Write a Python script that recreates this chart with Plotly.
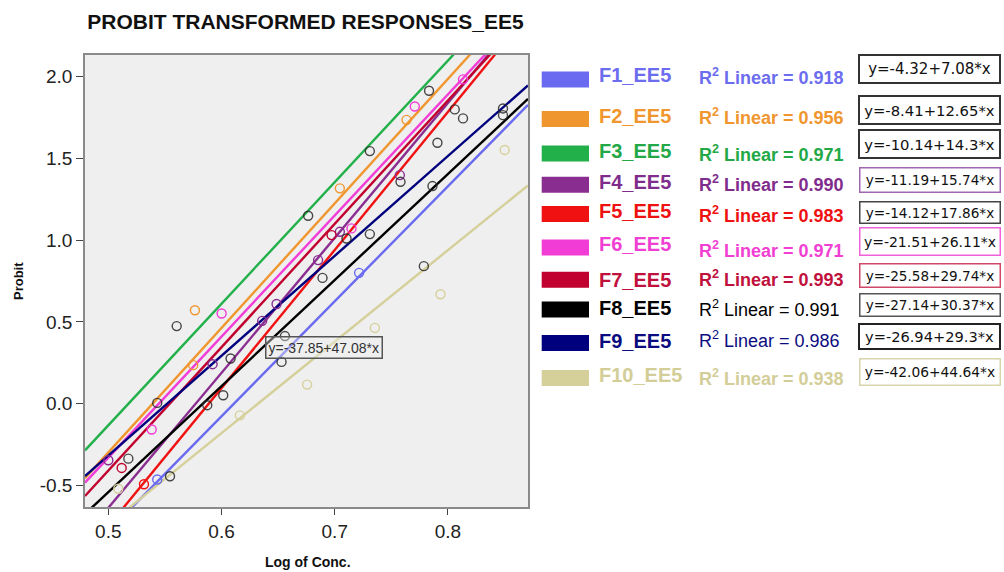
import numpy as np
import plotly.graph_objects as go

# ---------------- data ----------------
series_names = ["F1_EE5", "F2_EE5", "F3_EE5", "F4_EE5", "F5_EE5",
                "F6_EE5", "F7_EE5", "F8_EE5", "F9_EE5", "F10_EE5"]
r2_values = [0.918, 0.956, 0.971, 0.990, 0.983, 0.971, 0.993, 0.991, 0.986, 0.938]
eq_intercepts = [-4.32, -8.41, -10.14, -11.19, -14.12, -21.51, -25.58, -27.14, -26.94, -42.06]
eq_slopes = [7.08, 12.65, 14.3, 15.74, 17.86, 26.11, 29.74, 30.37, 29.3, 44.64]
extra_eq_intercept = -37.85
extra_eq_slope = 47.08

# fitted lines as drawn in the plot
line_intercepts = [-4.302, -4.109, -3.853, -4.768, -4.975, -4.036, -4.185, -3.787, -3.373, -3.541]
line_slopes = [7.04, 7.62, 7.44, 8.26, 8.45, 7.41, 7.55, 6.49, 6.11, 5.60]

f1_x = [0.5432, 0.5545, 0.653, 0.7215, 0.7787]
f1_y = [-0.465, -0.445, 0.255, 0.800, 0.841]
f2_x = [0.575, 0.5765, 0.7045, 0.7634]
f2_y = [0.235, 0.571, 1.317, 1.736]
f3_x = [0.5604, 0.6765, 0.731, 0.7833]
f3_y = [0.474, 1.149, 1.545, 1.914]
f4_x = [0.5, 0.5921, 0.6359, 0.6486, 0.6853, 0.7045, 0.7575]
f4_y = [-0.347, 0.241, 0.506, 0.609, 0.878, 1.051, 1.398]
f5_x = [0.5315, 0.5874, 0.7104, 0.7581, 0.806]
f5_y = [-0.494, -0.010, 1.010, 1.357, 1.800]
f6_x = [0.5383, 0.6001, 0.7148, 0.7707, 0.8133]
f6_y = [-0.159, 0.551, 1.072, 1.818, 1.984]
f7_x = [0.5118, 0.6972, 0.7907, 0.8133]
f7_y = [-0.394, 1.031, 1.596, 1.745]
f8_x = [0.5177, 0.6015, 0.656, 0.7863, 0.8486]
f8_y = [-0.337, 0.051, 0.413, 1.331, 1.765]
f9_x = [0.5432, 0.608, 0.6892, 0.731, 0.8486]
f9_y = [0.004, 0.276, 0.769, 1.037, 1.806]
f10_x = [0.5088, 0.6162, 0.6756, 0.7354, 0.7934, 0.8501]
f10_y = [-0.521, -0.072, 0.116, 0.463, 0.669, 1.552]

x_ticks = [0.5, 0.6, 0.7, 0.8]
y_ticks = [-0.5, 0.0, 0.5, 1.0, 1.5, 2.0]

all_x = [f1_x, f2_x, f3_x, f4_x, f5_x, f6_x, f7_x, f8_x, f9_x, f10_x]
all_y = [f1_y, f2_y, f3_y, f4_y, f5_y, f6_y, f7_y, f8_y, f9_y, f10_y]

# ---------------- style ----------------
colors = ["#6A6AF0", "#F0962E", "#22B04A", "#8A2D90", "#F01212",
          "#F23CD6", "#C2002F", "#000000", "#00007E", "#D5D09A"]
text_colors = ["#6C6CEE", "#F0962E", "#22A846", "#7F2C8C", "#EE1111",
               "#F03FD2", "#C0103C", "#000000", "#0B0B80", "#D3CD98"]
# which circles appear dark grey in the picture (per series, per point)
dark_marks = [[False, True, True, False, True],
              [False, False, False, False],
              [True, True, True, True],
              [False] * 7,
              [False, True, True, True, True],
              [False] * 5,
              [False, False, True, True],
              [True] * 5,
              [True] * 5,
              [False] * 6]
r2_bold = [True, True, True, True, True, True, True, False, False, True]
box_colors = ["#333333", "#333333", "#333333", "#A066B0", "#444444",
              "#F060D8", "#D04868", "#555555", "#222222", "#D8D4AC"]
box_font = [15, 14.8, 14.8, 13.6, 13.6, 14, 13.6, 13.6, 14.6, 13.8]
box_bw = [2, 2, 2, 1.5, 1.5, 1.5, 1.5, 1.5, 2, 1.5]
box_h = [24, 24, 24, 21, 18, 24, 20, 19, 21, 23]
row_swatch = [79.5, 119, 153.5, 184.7, 214, 247.5, 279.7, 309.5, 343, 378]
row_label = [74.5, 115.5, 150.5, 182, 211, 244, 280, 308, 341, 375]
row_r2 = [77, 116.7, 153.3, 183, 214, 249, 278, 308, 339, 377]
row_box = [69, 109.5, 144, 179.5, 212.5, 241, 275, 304.5, 336.5, 371.5]

FONT = "Liberation Sans, Arial, sans-serif"
BOXFONT = "DejaVu Sans, sans-serif"
X_RANGE = [0.4794, 0.8707]
Y_RANGE = [-0.633, 2.133]

# plot area in pixels
L, R, T, B = 85, 528, 55, 507
W, H = 1004, 572


def px(x):
    return (x - L) / (R - L)


def py(y):
    return (B - y) / (B - T)


def fmt(v):
    return f"{v:.1f}".replace("\u2212", "-")


fig = go.Figure()

# regression lines
xs = np.array(X_RANGE)
for i in range(len(series_names)):
    fig.add_trace(go.Scatter(
        x=xs, y=line_intercepts[i] + line_slopes[i] * xs,
        mode="lines", line=dict(color=colors[i], width=2.4),
        showlegend=False, hoverinfo="skip"))

# data points
for i in range(len(series_names)):
    mcols = ["rgba(40,40,40,0.85)" if d else colors[i] for d in dark_marks[i]]
    fig.add_trace(go.Scatter(
        x=all_x[i], y=all_y[i], mode="markers", name=series_names[i],
        marker=dict(symbol="circle-open", size=9,
                    line=dict(width=1.4), color=mcols),
        showlegend=False))

annotations = []
shapes = []

# equation label inside plot
annotations.append(dict(
    x=0.6906, y=0.342, xref="x", yref="y",
    text=f"y={extra_eq_intercept:g}+{extra_eq_slope:g}*x",
    showarrow=False, font=dict(family=FONT, size=14, color="#333333"),
    bordercolor="#555555", borderwidth=1.5, borderpad=2,
    bgcolor="rgba(240,240,240,0.4)"))

# custom legend
for i in range(len(series_names)):
    c = row_swatch[i]
    shapes.append(dict(type="rect", xref="paper", yref="paper",
                       x0=px(541.7), x1=px(589), y0=py(c + 8), y1=py(c - 8),
                       fillcolor=colors[i], line=dict(width=0)))
    annotations.append(dict(
        x=px(597), y=py(row_label[i]), xref="paper", yref="paper",
        xanchor="left", yanchor="middle", showarrow=False,
        text=f"<b>{series_names[i]}</b>",
        font=dict(family=FONT, size=20, color=text_colors[i])))
    r2txt = f"R<sup>2</sup> Linear = {r2_values[i]:.3f}"
    if r2_bold[i]:
        r2txt = f"<b>{r2txt}</b>"
    annotations.append(dict(
        x=px(697), y=py(row_r2[i]), xref="paper", yref="paper",
        xanchor="left", yanchor="middle", showarrow=False,
        text=r2txt,
        font=dict(family=FONT, size=18, color=text_colors[i])))
    annotations.append(dict(
        x=px(929.5), y=py(row_box[i]), xref="paper", yref="paper",
        xanchor="center", yanchor="middle", showarrow=False,
        text=f"y={eq_intercepts[i]:g}+{eq_slopes[i]:g}*x",
        width=137, height=box_h[i], align="center",
        font=dict(family=BOXFONT, size=box_font[i], color="#111111"),
        bordercolor=box_colors[i], borderwidth=box_bw[i], borderpad=1,
        bgcolor="white"))

# axis titles
annotations.append(dict(
    x=px(18), y=py(281), xref="paper", yref="paper", textangle=-90,
    xanchor="center", yanchor="middle",
    text="<b>Probit</b>", showarrow=False,
    font=dict(family=FONT, size=13, color="#111111")))
annotations.append(dict(
    x=px(308), y=py(562), xref="paper", yref="paper",
    xanchor="center", yanchor="middle",
    text="<b>Log of Conc.</b>", showarrow=False,
    font=dict(family=FONT, size=14, color="#111111")))

fig.update_layout(
    width=W, height=H,
    margin=dict(l=L, r=W - R, t=T, b=H - B, autoexpand=False),
    paper_bgcolor="white", plot_bgcolor="#EFEFEF",
    title=dict(text="<b>PROBIT TRANSFORMED RESPONSES_EE5</b>",
               x=305.5 / W, xref="container", xanchor="center",
               y=1 - 22 / H, yref="container", yanchor="middle",
               font=dict(family=FONT, size=21, color="#111111")),
    xaxis=dict(range=X_RANGE, tickvals=x_ticks,
               ticktext=[fmt(v) for v in x_ticks],
               showgrid=False, zeroline=False, showline=True, mirror=True,
               linecolor="#8A8A8A", linewidth=1.6, ticks="outside",
               ticklen=6, tickcolor="#444444", tickwidth=1.2,
               tickfont=dict(family=FONT, size=19, color="#222222")),
    yaxis=dict(range=Y_RANGE, tickvals=y_ticks,
               ticktext=[fmt(v) for v in y_ticks],
               showgrid=False, zeroline=False, showline=True, mirror=True,
               linecolor="#8A8A8A", linewidth=1.6, ticks="outside",
               ticklen=7, tickcolor="#444444", tickwidth=1.2,
               tickfont=dict(family=FONT, size=19, color="#222222")),
    annotations=annotations, shapes=shapes,
    font=dict(family=FONT),
)

fig.write_html("out.html",
               config={"displayModeBar": False},
               post_script="document.body.style.margin='0';document.body.style.overflow='hidden';")
